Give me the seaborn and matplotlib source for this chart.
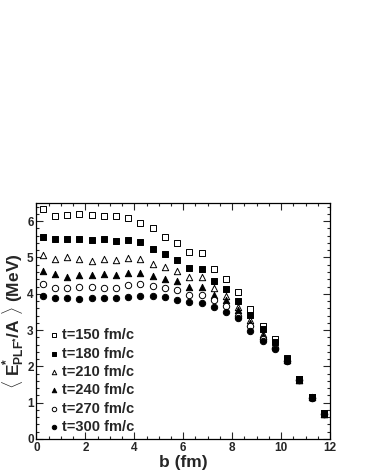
import numpy as np
import pandas as pd
import matplotlib
matplotlib.use("Agg")
import matplotlib.pyplot as plt
from matplotlib.ticker import MultipleLocator
import seaborn as sns

# impact parameter (fm)
b = [0.25, 0.75, 1.25, 1.75, 2.25, 2.75, 3.25, 3.75, 4.25, 4.75, 5.25, 5.75,
     6.25, 6.75, 7.25, 7.75, 8.25, 8.75, 9.25, 9.75, 10.25, 10.75, 11.25, 11.75]

# <E*/A> (MeV) for each time
e150 = [6.33, 6.15, 6.18, 6.19, 6.16, 6.15, 6.15, 6.08, 5.95, 5.82, 5.57, 5.39,
        5.14, 5.11, 4.69, 4.40, 4.04, 3.58, 3.10, 2.76, 2.22, 1.64, 1.16, 0.71]
e180 = [5.57, 5.51, 5.51, 5.51, 5.49, 5.51, 5.45, 5.47, 5.42, 5.24, 5.10, 4.94,
        4.72, 4.67, 4.36, 4.13, 3.79, 3.42, 3.03, 2.68, 2.20, 1.64, 1.16, 0.71]
e210 = [5.07, 4.95, 5.00, 4.95, 4.89, 4.97, 4.92, 4.99, 4.96, 4.82, 4.73, 4.63,
        4.45, 4.45, 4.15, 3.95, 3.63, 3.29, 2.89, 2.60, 2.18, 1.63, 1.15, 0.70]
e240 = [4.64, 4.54, 4.47, 4.53, 4.52, 4.54, 4.51, 4.57, 4.57, 4.50, 4.41, 4.36,
        4.20, 4.20, 3.96, 3.84, 3.54, 3.20, 2.83, 2.56, 2.17, 1.63, 1.15, 0.70]
e270 = [4.27, 4.15, 4.16, 4.20, 4.18, 4.16, 4.16, 4.23, 4.26, 4.22, 4.15, 4.11,
        3.97, 3.97, 3.82, 3.67, 3.39, 3.10, 2.76, 2.52, 2.15, 1.62, 1.14, 0.69]
e300 = [3.93, 3.88, 3.88, 3.86, 3.88, 3.88, 3.88, 3.92, 3.95, 3.95, 3.90, 3.84,
        3.76, 3.74, 3.63, 3.49, 3.32, 2.98, 2.70, 2.48, 2.14, 1.62, 1.14, 0.69]

labels = ["t=150 fm/c", "t=180 fm/c", "t=210 fm/c",
          "t=240 fm/c", "t=270 fm/c", "t=300 fm/c"]
series = [e150, e180, e210, e240, e270, e300]
markers = ["s", "s", "^", "^", "o", "o"]
filled = [False, True, False, True, False, True]

df = pd.concat([pd.DataFrame({"b": b, "E": v, "t": lab})
                for lab, v in zip(labels, series)], ignore_index=True)

sns.set_style("ticks")
plt.rcParams["font.family"] = ["Liberation Sans", "DejaVu Sans"]
plt.rcParams["font.weight"] = "bold"
plt.rcParams["mathtext.fontset"] = "custom"
plt.rcParams["mathtext.rm"] = "Liberation Sans:bold"
plt.rcParams["mathtext.bf"] = "Liberation Sans:bold"
plt.rcParams["mathtext.it"] = "Liberation Sans:bold"

fig = plt.figure(figsize=(3.66, 4.73), dpi=100)
ax = fig.add_axes([0.0997, 0.0719, 0.8019, 0.4989])

for i, (lab, m, f) in enumerate(zip(labels, markers, filled)):
    d = df[df["t"] == lab]
    sns.scatterplot(data=d, x="b", y="E", ax=ax, marker=m, s=21,
                    facecolor="black" if f else "white", edgecolor="black",
                    linewidth=0.7, label=lab, zorder=4 if i == 1 else 3)

ax.set_xlim(0, 12)
ax.set_ylim(0, 6.5)
ax.xaxis.set_major_locator(MultipleLocator(2))
ax.xaxis.set_minor_locator(MultipleLocator(0.5))
ax.yaxis.set_major_locator(MultipleLocator(1))
ax.yaxis.set_minor_locator(MultipleLocator(0.2))
ax.tick_params(which="both", direction="in", top=True, right=True,
               width=0.8, labelsize=8.5, pad=2)
ax.tick_params(which="major", length=5)
ax.tick_params(which="minor", length=2.5)
for lbl in ax.get_xticklabels() + ax.get_yticklabels():
    lbl.set_fontweight("bold")
for sp in ax.spines.values():
    sp.set_linewidth(0.9)
    sp.set_color("black")

ax.set_xlabel("b (fm)", fontsize=12.5, fontweight="bold", labelpad=1)
ax.set_ylabel(r"$\langle$ $\mathbf{E^{*}_{PLF^{*}}/A}$ $\rangle$ (MeV)",
              fontsize=12.5, fontweight="bold", labelpad=1)

leg = ax.legend(loc="upper left", bbox_to_anchor=(0.0, 0.513), frameon=False,
                markerscale=0.7, handletextpad=0.05, handlelength=1.0,
                labelspacing=0.3, borderaxespad=0.3,
                prop={"size": 10.5, "weight": "bold"})

fig.savefig("out.png", dpi=100)
